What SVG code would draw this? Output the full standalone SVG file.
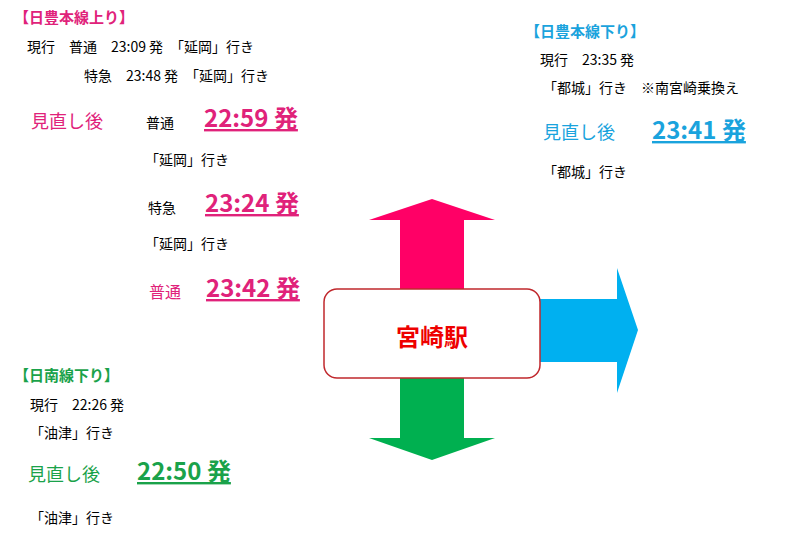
<svg xmlns="http://www.w3.org/2000/svg" width="793" height="533" viewBox="0 0 793 533">
<style>
text{font-family:"Noto Sans CJK JP","Liberation Sans",sans-serif}
.k{font-size:14px;fill:#000}
.h{font-size:15px;font-weight:bold}
.p{fill:#e0227a}.g{fill:#1aa24a}.b{fill:#1aa3dd}
.big{font-size:24px;font-weight:bold;text-decoration:underline}
.m{font-size:18px}
</style>
<rect width="793" height="533" fill="#fff"/>
<g id="connectors">
<polygon points="432,199 495,220 464,220 464,290 400,290 400,220 369,220" fill="#ff0066"/>
<polygon points="400,377 464,377 464,438 495,438 432,460 369,438 400,438" fill="#00b050"/>
<polygon points="539,299 617,299 617,268 638,330 617,393 617,362 539,362" fill="#00b0f0"/>
</g>
<g id="station">
<rect x="324" y="289" width="216" height="89" rx="13" fill="#fff" stroke="#c0282d" stroke-width="1.5"/>
<text x="432" y="346" text-anchor="middle" font-size="24" font-weight="bold" fill="#e00">宮崎駅</text>
</g>
<g id="nippo-up">
<text class="h p" x="14" y="23">【日豊本線上り】</text>
<text class="k" x="27" y="52">現行　普通　23:09 発　「延岡」行き</text>
<text class="k" x="84" y="81">特急　23:48 発　「延岡」行き</text>
<text class="p m" x="31" y="128">見直し後</text>
<text class="k" x="146" y="128" font-size="16">普通</text>
<text class="p big" x="204" y="127">22:59 発</text>
<text class="k" x="145" y="165">「延岡」行き</text>
<text class="k" x="148" y="213" font-size="16">特急</text>
<text class="p big" x="205" y="212">23:24 発</text>
<text class="k" x="145" y="249">「延岡」行き</text>
<text class="p" x="149" y="298" font-size="16">普通</text>
<text class="p big" x="206" y="297">23:42 発</text>
</g>
<g id="nippo-down">
<text class="h b" x="525" y="37">【日豊本線下り】</text>
<text class="k" x="540" y="65">現行　23:35 発</text>
<text class="k" x="543" y="93">「都城」行き　※南宮崎乗換え</text>
<text class="b m" x="543" y="139">見直し後</text>
<text class="b big" x="652" y="139">23:41 発</text>
<text class="k" x="543" y="177">「都城」行き</text>
</g>
<g id="nichinan">
<text class="h g" x="14" y="381">【日南線下り】</text>
<text class="k" x="30" y="410">現行　22:26 発</text>
<text class="k" x="30" y="438">「油津」行き</text>
<text class="g m" x="28" y="481">見直し後</text>
<text class="g big" x="137" y="480">22:50 発</text>
<text class="k" x="30" y="523">「油津」行き</text>
</g>
</svg>
